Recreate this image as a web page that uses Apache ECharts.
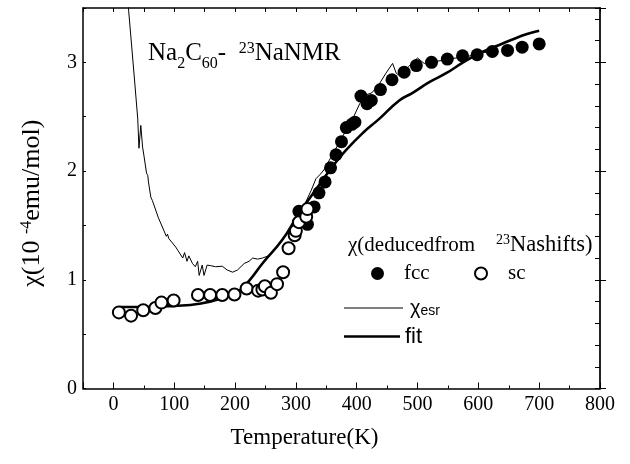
<!DOCTYPE html>
<html><head><meta charset="utf-8">
<script src="https://cdn.jsdelivr.net/npm/echarts@6/dist/echarts.min.js"></script>
<style>html,body{margin:0;padding:0;background:#fff}#c{width:630px;height:464px}</style>
</head><body><div id="c"></div>
<script>
// ---- data ----
const xTickLabels = [0, 100, 200, 300, 400, 500, 600, 700, 800];
const yTickLabels = [0, 1, 2, 3];

const fccData = [
  [305,1.63],[319,1.51],[330,1.67],[338,1.80],[348,1.90],[357,2.03],[366,2.15],
  [375,2.27],[383,2.40],[392,2.43],[397,2.45],[407,2.69],[417,2.62],[424,2.65],
  [439,2.75],[458,2.84],[478,2.91],[498,2.97],[523,3.00],[549,3.03],[574,3.06],
  [598,3.07],[623,3.10],[648,3.11],[672,3.14],[700,3.17]
];
const scData = [
  [9,0.70],[29,0.67],[49,0.72],[69,0.74],[79,0.79],[99,0.81],[139,0.86],[159,0.86],
  [179,0.86],[199,0.865],[219,0.92],[238,0.90],[245,0.91],[249,0.94],[259,0.88],
  [269,0.96],[279,1.07],[288,1.29],[298,1.41],[300,1.45],[305,1.53],[317,1.58],[319,1.65]
];
const esrData = [
  [22,3.75],[25,3.48],[30,3.15],[35,2.82],[40,2.48],[42,2.21],[45,2.42],[48,2.22],
  [50.5,2.13],[54.5,1.98],[56.5,1.96],[57.6,1.90],[61.5,1.76],[64,1.73],[74,1.57],
  [87,1.40],[89,1.42],[91,1.38],[102.6,1.30],[106,1.27],[114,1.20],[117,1.25],
  [121,1.17],[124,1.22],[130,1.15],[134.7,1.12],[138.5,1.17],[141,1.04],[146,1.135],
  [149,1.04],[154,1.135],[160,1.13],[168,1.12],[179,1.125],[187,1.09],[196,1.07],
  [204,1.09],[215,1.15],[223,1.17],[229,1.20],[237,1.19],[245,1.20],[255,1.22],
  [265,1.28],[275,1.34],[285,1.42],[295,1.50],[305,1.58],[315,1.70],[325,1.82],
  [333,1.93],[340,1.97],[346,2.01],[355,2.10],[365,2.20],[375,2.30],[385,2.40],
  [395,2.50],[405,2.62],[415,2.70],[425,2.72],[437,2.80],[448,2.90],[459,2.99],
  [465,2.90],[470,2.88],[485,2.96],[500,3.04],[511,2.99],[530,3.01],[545,3.02],
  [563,3.04],[580,3.05],[600,3.08],[620,3.10]
];
const fitData = [
  [10,0.75],[50,0.75],[100,0.76],[141,0.78],[179,0.83],[207,0.90],[223,0.99],
  [245,1.15],[278,1.37],[305,1.61],[333,1.83],[360,2.04],[382,2.19],[410,2.35],
  [437,2.48],[470,2.65],[492,2.72],[520,2.82],[547,2.90],[575,3.00],[601,3.08],
  [630,3.15],[656,3.21],[680,3.26],[700,3.29]
];

// ---- chart ----
const SERIF = 'Liberation Serif';
const SANS = 'Liberation Sans';
const G = {left: 83, right: 30, top: 8, bottom: 75.5};
const xMin = -50, xMax = 800, yMin = 0, yMax = 3.5;
const black = '#000';

const chart = echarts.init(document.getElementById('c'), null, {renderer: 'canvas'});

const option = {
  animation: false,
  backgroundColor: '#fff',
  grid: [Object.assign({}, G), Object.assign({}, G)],
  xAxis: [
    {
      gridIndex: 0, type: 'value', min: xMin, max: xMax, interval: 50, position: 'bottom',
      axisLine: {show: true, onZero: false, lineStyle: {color: black, width: 1.5}},
      axisTick: {show: true, inside: true, length: 3, lineStyle: {color: black, width: 1}},
      axisLabel: {margin: 6, color: black, fontFamily: SERIF, fontSize: 20,
        formatter: v => xTickLabels.indexOf(v) >= 0 ? String(v) : ''},
      splitLine: {show: false},
      name: 'Temperature(K)', nameLocation: 'middle', nameGap: 38,
      nameTextStyle: {color: black, fontFamily: SERIF, fontSize: 23, padding: [0, 74, 0, 0]}
    },
    {
      // major ticks at 0,100,...,800 (decorative, reversed scale: value = 800 - T)
      gridIndex: 1, type: 'value', min: 0, max: xMax - xMin, interval: 100, inverse: true,
      position: 'bottom',
      axisLine: {show: false},
      axisTick: {show: true, inside: true, length: 6, lineStyle: {color: black, width: 1}},
      axisLabel: {show: false}, splitLine: {show: false}
    },
    {
      gridIndex: 1, type: 'value', min: xMin, max: xMax, interval: 50, position: 'top',
      axisLine: {show: true, onZero: false, lineStyle: {color: black, width: 1.5}},
      axisTick: {show: true, inside: true, length: 4, lineStyle: {color: black, width: 1}},
      axisLabel: {show: false}, splitLine: {show: false}
    }
  ],
  yAxis: [
    {
      gridIndex: 0, type: 'value', min: yMin, max: yMax, interval: 0.5, position: 'left',
      axisLine: {show: true, onZero: false, lineStyle: {color: black, width: 1.5}},
      axisTick: {show: true, inside: true, length: 3, lineStyle: {color: black, width: 1}},
      axisLabel: {margin: 6, color: black, fontFamily: SERIF, fontSize: 20,
        formatter: v => yTickLabels.indexOf(v) >= 0 ? String(v) : ''},
      splitLine: {show: false},
      name: '{m|χ(10 }{sup|-4}{m|emu/mol)}', nameLocation: 'middle', nameGap: 38, nameRotate: 90,
      nameTextStyle: {color: black, fontFamily: SERIF, fontSize: 26, padding: [0, 10, 0, 0],
        rich: {
          m: {fontFamily: SERIF, fontSize: 26, color: black},
          sup: {fontFamily: SERIF, fontSize: 16, color: black, verticalAlign: 'top'}
        }}
    },
    {
      gridIndex: 1, type: 'value', min: yMin, max: yMax, interval: 1, position: 'left',
      axisLine: {show: false},
      axisTick: {show: true, inside: true, length: 6, lineStyle: {color: black, width: 1}},
      axisLabel: {show: false}, splitLine: {show: false}
    },
    {
      gridIndex: 1, type: 'value', min: yMin, max: yMax, interval: 0.2, position: 'right',
      axisLine: {show: true, onZero: false, lineStyle: {color: '#222', width: 2}},
      axisTick: {show: true, inside: true, length: 5, lineStyle: {color: black, width: 1}},
      axisLabel: {show: false}, splitLine: {show: false}
    }
  ],
  legend: [
    {data: ['fcc'], left: 371, top: 263, padding: 0, itemWidth: 43, itemHeight: 13,
      selectedMode: false, textStyle: {color: black, fontFamily: SERIF, fontSize: 21}},
    {data: ['sc'], left: 474, top: 263, padding: 0, itemWidth: 44, itemHeight: 12,
      selectedMode: false, textStyle: {color: black, fontFamily: SERIF, fontSize: 21}},
    {data: [{name: 'esr', icon: 'rect'}], left: 344, top: 298, padding: 0, itemWidth: 59, itemHeight: 1,
      selectedMode: false,
      formatter: () => '{a|χ}{b|esr}',
      textStyle: {color: black, padding: [0, 0, 0, 2],
        rich: {
          a: {fontFamily: SANS, fontSize: 20, color: black},
          b: {fontFamily: SANS, fontSize: 14, color: black, verticalAlign: 'bottom'}
        }}},
    {data: [{name: 'fit', icon: 'rect'}], left: 344, top: 325.5, padding: 0, itemWidth: 56, itemHeight: 2.6,
      selectedMode: false, textStyle: {color: black, fontFamily: SANS, fontSize: 22}}
  ],
  graphic: [
    {
      type: 'text', x: 148, y: 53, silent: true,
      style: {
        text: '{m|Na}{sub|2}{m|C}{sub|60}{m|-  }{sup|23}{m|NaNMR}',
        align: 'left', verticalAlign: 'middle', fill: black,
        rich: {
          m: {fontFamily: SERIF, fontSize: 25, fill: black},
          sub: {fontFamily: SERIF, fontSize: 16, fill: black, verticalAlign: 'bottom', padding: [0, 0, -6, 0]},
          sup: {fontFamily: SERIF, fontSize: 16, fill: black, verticalAlign: 'top'}
        }
      }
    },
    {
      type: 'text', x: 348, y: 245, silent: true,
      style: {
        text: '{m|χ(deducedfrom    }{sup|23}{n|Nashifts)}',
        align: 'left', verticalAlign: 'middle', fill: black,
        rich: {
          m: {fontFamily: SERIF, fontSize: 21, fill: black},
          n: {fontFamily: SERIF, fontSize: 22.5, fill: black},
          sup: {fontFamily: SERIF, fontSize: 14, fill: black, verticalAlign: 'top'}
        }
      }
    }
  ],
  series: [
    {
      name: 'esr', type: 'line', xAxisIndex: 0, yAxisIndex: 0, data: esrData,
      symbol: 'none', showSymbol: false, clip: true, z: 2,
      lineStyle: {color: black, width: 1}, itemStyle: {color: black}
    },
    {
      name: 'fit', type: 'line', xAxisIndex: 0, yAxisIndex: 0, data: fitData,
      symbol: 'none', showSymbol: false, smooth: true, clip: true, z: 3,
      lineStyle: {color: black, width: 2.6}, itemStyle: {color: black}
    },
    {
      name: 'fcc', type: 'scatter', xAxisIndex: 0, yAxisIndex: 0, data: fccData,
      symbol: 'circle', symbolSize: 13, z: 4,
      itemStyle: {color: black, opacity: 1}
    },
    {
      name: 'sc', type: 'scatter', xAxisIndex: 0, yAxisIndex: 0, data: scData,
      symbol: 'emptyCircle', symbolSize: 12, z: 5,
      itemStyle: {color: black, borderColor: black, borderWidth: 1.5, opacity: 1}
    }
  ]
};
chart.setOption(option);
</script>
</body></html>
